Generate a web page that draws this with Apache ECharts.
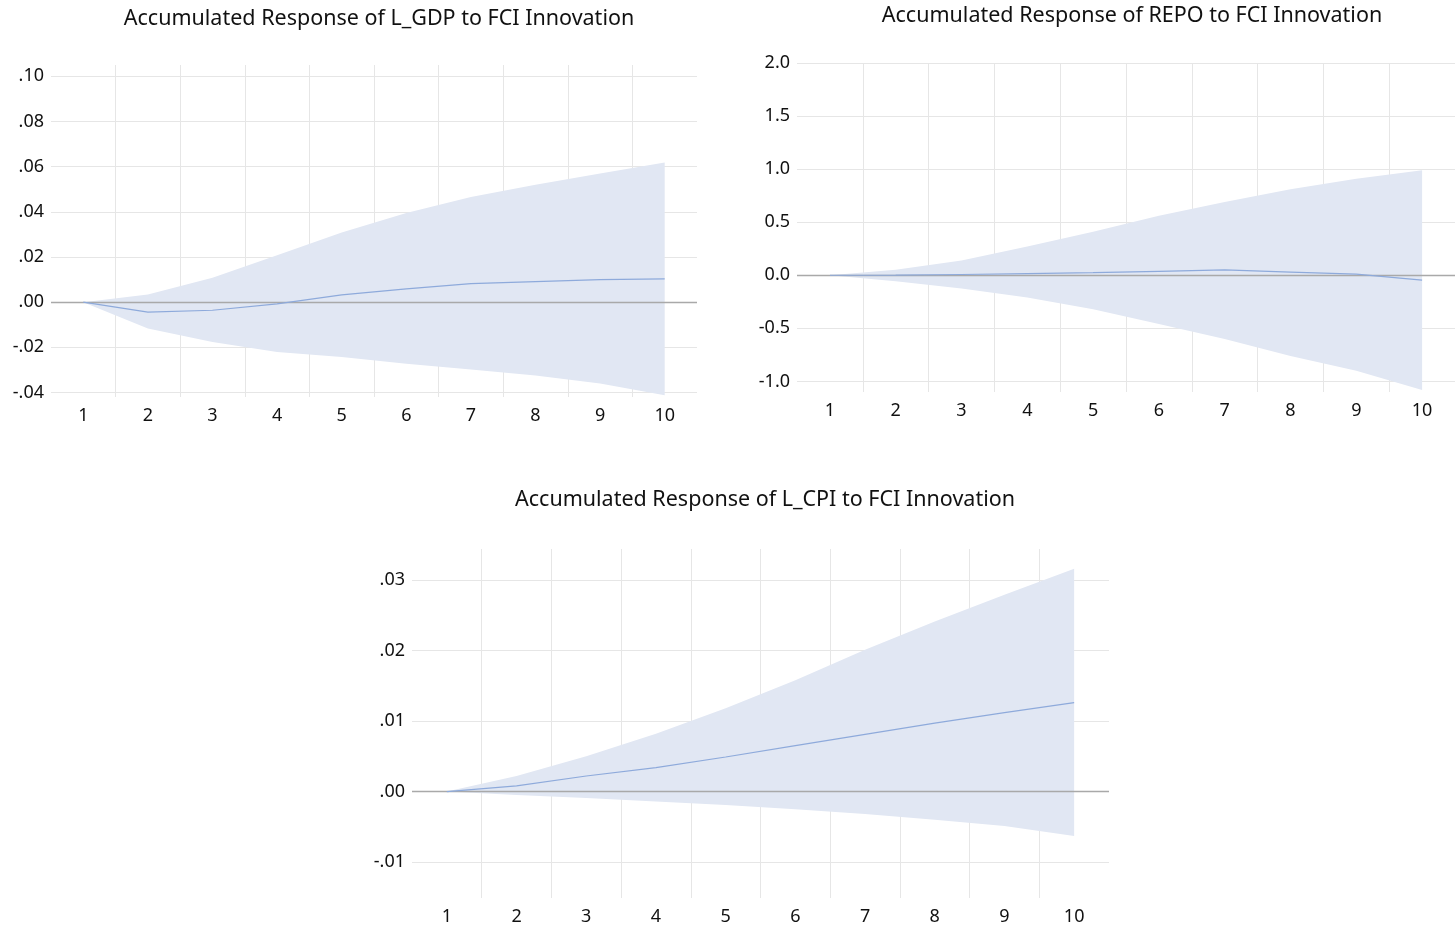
<!DOCTYPE html>
<html>
<head>
<meta charset="utf-8">
<script src="https://cdn.jsdelivr.net/npm/echarts@6/dist/echarts.min.js"></script>
<style>
  html, body { margin: 0; padding: 0; background: #fff; }
  #chart { width: 1455px; height: 932px; }
</style>
</head>
<body>
<div id="chart"></div>
<script>
// periods
const periods = ["1", "2", "3", "4", "5", "6", "7", "8", "9", "10"];

// L_GDP
const gdpResp  = [0, -0.0044, -0.0036, -0.0008, 0.0032, 0.0059, 0.0082, 0.0091, 0.0100, 0.0103];
const gdpUpper = [0, 0.0034, 0.0108, 0.0208, 0.0308, 0.0395, 0.0465, 0.0520, 0.0570, 0.0618];
const gdpLower = [0, -0.0117, -0.0177, -0.0221, -0.0243, -0.0273, -0.0298, -0.0325, -0.0360, -0.0412];
const gdpTicks = [-0.04, -0.02, 0, 0.02, 0.04, 0.06, 0.08, 0.10];

// REPO
const repoResp  = [0, 0.002, 0.007, 0.015, 0.025, 0.037, 0.050, 0.030, 0.010, -0.045];
const repoUpper = [0, 0.053, 0.14, 0.27, 0.41, 0.56, 0.69, 0.81, 0.91, 0.99];
const repoLower = [0, -0.056, -0.125, -0.21, -0.32, -0.46, -0.60, -0.76, -0.90, -1.08];
const repoTicks = [-1.0, -0.5, 0, 0.5, 1.0, 1.5, 2.0];

// L_CPI
const cpiResp  = [0, 0.0008, 0.0022, 0.0034, 0.0049, 0.0065, 0.0081, 0.0097, 0.0112, 0.0126];
const cpiUpper = [0, 0.0022, 0.0050, 0.0082, 0.0118, 0.0158, 0.0201, 0.0241, 0.0279, 0.0316];
const cpiLower = [0, -0.0005, -0.0009, -0.0014, -0.0019, -0.0025, -0.0032, -0.0040, -0.0049, -0.0063];
const cpiTicks = [-0.01, 0, 0.01, 0.02, 0.03];

const lineColor = "#8eaadb";
const bandColor = "#e1e7f3";
const gridColor = "#e6e6e6";
const textColor = "#111";
const font = "'Noto Sans', 'Open Sans', sans-serif";

function dotFmt(v) {
  // .10 / -.04 style
  let s = Math.abs(v).toFixed(2).replace(/^0/, "");
  return (v < -1e-9 ? "-" : "") + s;
}
function oneDec(v) {
  return Math.abs(v) < 1e-9 ? "0.0" : v.toFixed(1);
}

function xAxisOf(i) {
  return {
    type: "category",
    gridIndex: i,
    data: periods,
    boundaryGap: true,
    axisLine: { show: false },
    axisTick: { show: false },
    axisLabel: { color: textColor, fontSize: 18, fontFamily: font, margin: 10 },
    splitLine: {
      show: true,
      showMinLine: false,
      showMaxLine: false,
      lineStyle: { color: gridColor, width: 1 },
    },
  };
}

function yAxisOf(i, min, max, ticks, fmt) {
  return {
    type: "value",
    gridIndex: i,
    min: min,
    max: max,
    axisLine: { show: false },
    axisTick: { show: false, customValues: ticks },
    axisLabel: {
      color: textColor,
      fontSize: 18,
      fontFamily: font,
      margin: 7,
      customValues: ticks,
      formatter: fmt,
    },
    splitLine: { show: true, lineStyle: { color: gridColor, width: 1 } },
  };
}

function seriesOf(i, lower, upper, resp) {
  const diff = upper.map((u, k) => u - lower[k]);
  const stackName = "band" + i;
  return [
    {
      type: "line",
      xAxisIndex: i,
      yAxisIndex: i,
      data: lower,
      stack: stackName,
      stackStrategy: "all",
      symbol: "none",
      lineStyle: { opacity: 0 },
      silent: true,
      clip: false,
    },
    {
      type: "line",
      xAxisIndex: i,
      yAxisIndex: i,
      data: diff,
      stack: stackName,
      stackStrategy: "all",
      symbol: "none",
      lineStyle: { opacity: 0 },
      areaStyle: { color: bandColor, opacity: 1 },
      silent: true,
      clip: false,
    },
    {
      type: "line",
      xAxisIndex: i,
      yAxisIndex: i,
      data: resp,
      symbol: "none",
      lineStyle: { color: lineColor, width: 1.2 },
      z: 5,
      markLine: {
        silent: true,
        symbol: "none",
        label: { show: false },
        lineStyle: { color: "#a9a9a9", width: 1.3, type: "solid" },
        data: [{ yAxis: 0 }],
        z: 4,
      },
    },
  ];
}

const titleStyle = { fontSize: 21.5, fontWeight: "normal", color: textColor, fontFamily: font };

let chart = echarts.init(document.getElementById("chart"));
chart.setOption({
  animation: false,
  backgroundColor: "#fff",
  title: [
    { text: "Accumulated Response of L_GDP to FCI Innovation", left: 374, top: 3, textAlign: "center", textStyle: titleStyle },
    { text: "Accumulated Response of REPO to FCI Innovation", left: 1127, top: 0, textAlign: "center", textStyle: titleStyle },
    { text: "Accumulated Response of L_CPI to FCI Innovation", left: 760, top: 484, textAlign: "center", textStyle: titleStyle },
  ],
  grid: [
    { left: 51, width: 646, top: 65, height: 332 },
    { left: 797, width: 660, top: 63, height: 329 },
    { left: 412, width: 697, top: 549, height: 349 },
  ],
  xAxis: [xAxisOf(0), xAxisOf(1), xAxisOf(2)],
  yAxis: [
    yAxisOf(0, -0.042, 0.105, gdpTicks, dotFmt),
    yAxisOf(1, -1.1, 2.0, repoTicks, oneDec),
    yAxisOf(2, -0.0151, 0.0344, cpiTicks, dotFmt),
  ],
  series: [
    ...seriesOf(0, gdpLower, gdpUpper, gdpResp),
    ...seriesOf(1, repoLower, repoUpper, repoResp),
    ...seriesOf(2, cpiLower, cpiUpper, cpiResp),
  ],
});
</script>
</body>
</html>
